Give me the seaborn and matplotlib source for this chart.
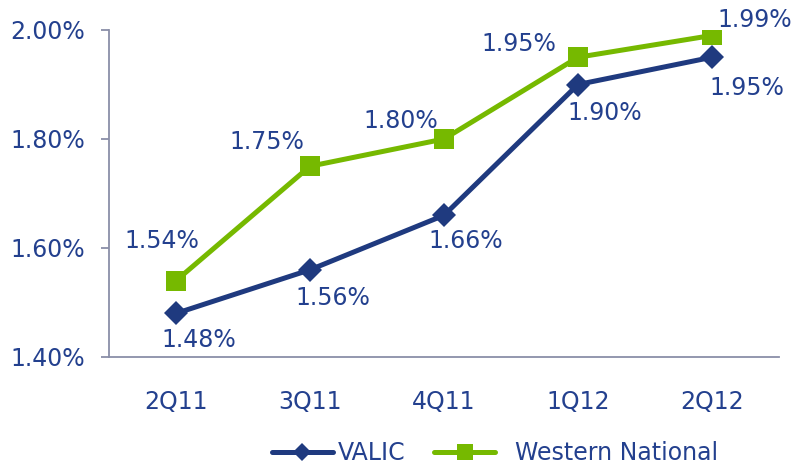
import matplotlib
matplotlib.use("Agg")
import matplotlib.pyplot as plt
import seaborn as sns
import pandas as pd
from matplotlib.ticker import FuncFormatter

quarters = ["2Q11", "3Q11", "4Q11", "1Q12", "2Q12"]
valic = [1.48, 1.56, 1.66, 1.90, 1.95]
western = [1.54, 1.75, 1.80, 1.95, 1.99]

navy = "#1F3A7F"
green = "#76B900"
text_c = "#23408E"
axis_c = "#8A8FA8"
fs = 17

sns.set_style("white")
plt.rcParams["font.family"] = ["DejaVu Sans"]

df = pd.DataFrame({
    "quarter": quarters * 2,
    "value": valic + western,
    "series": ["VALIC"] * 5 + ["Western National"] * 5,
})

fig = plt.figure(figsize=(7.96, 4.66), dpi=100)
ax = fig.add_axes([109 / 796, 1 - 357 / 466, 670 / 796, 327 / 466])

sns.lineplot(data=df, x="quarter", y="value", hue="series", style="series",
             markers={"VALIC": "D", "Western National": "s"}, dashes=False,
             palette={"VALIC": navy, "Western National": green},
             linewidth=3.6, markersize=15, markeredgewidth=0, ax=ax, sort=False)
for line in ax.lines:
    if line.get_marker() == "D":
        line.set_markersize(12)

ax.set_xlim(-0.5, 4.5)
ax.set_ylim(1.40, 2.00)
ax.set_yticks([1.40, 1.60, 1.80, 2.00])
ax.yaxis.set_major_formatter(FuncFormatter(lambda v, p: f"{v:.2f}%"))
ax.set_xlabel("")
ax.set_ylabel("")
for s in ["top", "right"]:
    ax.spines[s].set_visible(False)
for s in ["left", "bottom"]:
    ax.spines[s].set_color(axis_c)
    ax.spines[s].set_linewidth(1.3)
ax.tick_params(axis="y", which="both", left=True, length=6, width=1.3, color=axis_c,
               labelsize=fs, labelcolor=text_c, pad=11)
ax.tick_params(axis="x", bottom=False, labelsize=fs, labelcolor=text_c, pad=20)

# data labels: offsets in pixels (dx, dy up)
v_off = [(23, -27), (23, -28), (22, -26), (27, -29), (35, -31)]
w_off = [(-14, 40), (-43, 24), (-43, 18), (-59, 13), (43, 15)]
for i, (v, w) in enumerate(zip(valic, western)):
    ax.annotate(f"{v:.2f}%", (i, v), xytext=(v_off[i][0] * 0.72, v_off[i][1] * 0.72),
                textcoords="offset points", ha="center", va="center",
                fontsize=fs, color=text_c)
    ax.annotate(f"{w:.2f}%", (i, w), xytext=(w_off[i][0] * 0.72, w_off[i][1] * 0.72),
                textcoords="offset points", ha="center", va="center",
                fontsize=fs, color=text_c)

handles, labels = ax.get_legend_handles_labels()
for h in handles:
    h.set_markersize(11 if h.get_marker() == "s" else 9)
labels = ["VALIC", "  Western National"]
leg = ax.legend(handles, labels, loc="center", bbox_to_anchor=(0.576, -0.295), ncol=2,
                frameon=False, fontsize=fs, handlelength=2.6, columnspacing=1.2,
                handletextpad=0.2)
for t in leg.get_texts():
    t.set_color(text_c)

fig.savefig("out.png", dpi=100)
